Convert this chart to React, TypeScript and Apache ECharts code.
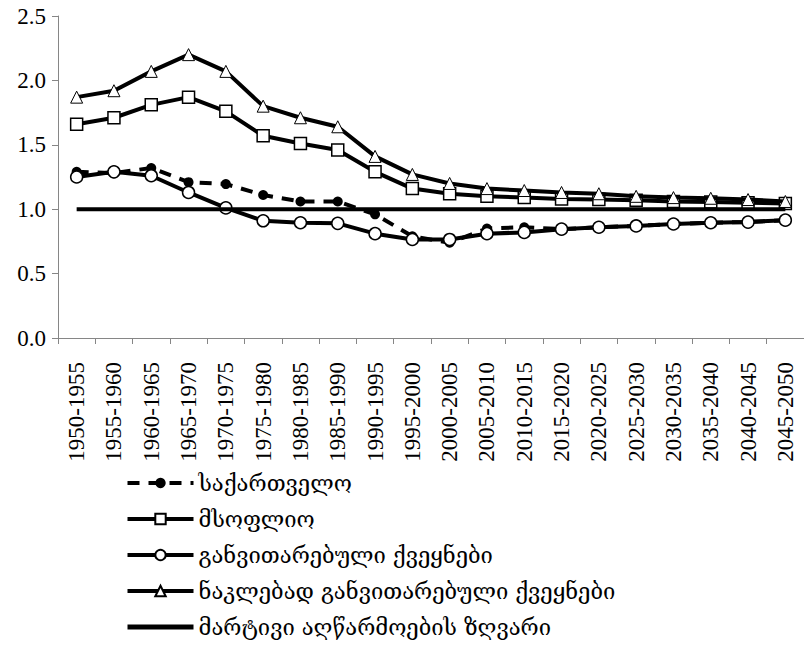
import React, { useEffect, useRef } from "react";
import * as echarts from "echarts";

const categories = [
  "1950-1955", "1955-1960", "1960-1965", "1965-1970", "1970-1975",
  "1975-1980", "1980-1985", "1985-1990", "1990-1995", "1995-2000",
  "2000-2005", "2005-2010", "2010-2015", "2015-2020", "2020-2025",
  "2025-2030", "2030-2035", "2035-2040", "2040-2045", "2045-2050",
];

const seriesNames = [
  "საქართველო",
  "მსოფლიო",
  "განვითარებული ქვეყნები",
  "ნაკლებად განვითარებული ქვეყნები",
  "მარტივი აღწარმოების ზღვარი",
];

const georgia = [1.29, 1.28, 1.32, 1.21, 1.195, 1.11, 1.06, 1.06, 0.96, 0.79, 0.74, 0.85, 0.86, 0.845, 0.86, 0.87, 0.885, 0.895, 0.90, 0.915];
const world = [1.66, 1.71, 1.81, 1.87, 1.76, 1.57, 1.51, 1.46, 1.29, 1.16, 1.12, 1.10, 1.09, 1.08, 1.075, 1.07, 1.06, 1.055, 1.05, 1.045];
const developed = [1.25, 1.29, 1.26, 1.13, 1.01, 0.91, 0.895, 0.89, 0.81, 0.765, 0.765, 0.81, 0.82, 0.845, 0.86, 0.87, 0.885, 0.895, 0.90, 0.915];
const lessDeveloped = [1.87, 1.92, 2.07, 2.20, 2.07, 1.80, 1.71, 1.64, 1.41, 1.27, 1.20, 1.16, 1.145, 1.13, 1.12, 1.10, 1.09, 1.085, 1.075, 1.06];
const replacement = [1, 1, 1, 1, 1, 1, 1, 1, 1, 1, 1, 1, 1, 1, 1, 1, 1, 1, 1, 1];

const yTicks = { min: 0, max: 2.5, interval: 0.5 };

const CHART_H = 760;

export default function App() {
  const ref = useRef<HTMLDivElement>(null);
  useEffect(() => {
    if (!ref.current) return;
    const chart = echarts.init(ref.current, null, { renderer: "svg" });
    const dash = [12, 9];
    const serif = "Liberation Serif";
    chart.setOption({
      animation: false,
      backgroundColor: "#ffffff",
      grid: { left: 58, right: 0, top: 16, bottom: CHART_H - 338, containLabel: false },
      legend: {
        orient: "vertical",
        left: 125,
        top: 472,
        padding: 0,
        itemWidth: 66,
        itemHeight: 13,
        itemGap: 14,
        textStyle: { fontFamily: "DejaVu Serif", fontSize: 22, color: "#000" },
        data: [
          { name: seriesNames[0], lineStyle: { width: 4, type: dash } },
          { name: seriesNames[1], lineStyle: { width: 4 } },
          { name: seriesNames[2], lineStyle: { width: 4 } },
          { name: seriesNames[3], lineStyle: { width: 4 } },
          { name: seriesNames[4], lineStyle: { width: 5 }, itemStyle: { opacity: 0 } },
        ],
      },
      xAxis: {
        type: "category",
        data: categories,
        boundaryGap: true,
        axisLine: { lineStyle: { color: "#868686", width: 1 } },
        axisTick: { show: true, interval: 0, length: 6, lineStyle: { color: "#868686" } },
        axisLabel: {
          interval: 0,
          rotate: 90,
          margin: 24,
          color: "#000",
          fontFamily: serif,
          fontSize: 23,
        },
        splitLine: { show: false },
      },
      yAxis: {
        type: "value",
        min: yTicks.min,
        max: yTicks.max,
        interval: yTicks.interval,
        axisLine: { show: true, lineStyle: { color: "#868686", width: 1 } },
        axisTick: { show: true, length: 6, lineStyle: { color: "#868686" } },
        axisLabel: {
          margin: 12,
          color: "#000",
          fontFamily: serif,
          fontSize: 23,
          formatter: (v: number) => v.toFixed(1),
        },
        splitLine: { show: false },
      },
      series: [
        {
          name: seriesNames[0],
          type: "line",
          data: georgia,
          symbol: "circle",
          symbolSize: 10,
          itemStyle: { color: "#000", borderColor: "#000", borderWidth: 0 },
          lineStyle: { color: "#000", width: 4, type: dash },
          z: 2,
        },
        {
          name: seriesNames[1],
          type: "line",
          data: world,
          symbol: "rect",
          symbolSize: 12,
          showAllSymbol: true,
          itemStyle: { color: "#fff", borderColor: "#000", borderWidth: 1.5 },
          lineStyle: { color: "#000", width: 4 },
          z: 3,
        },
        {
          name: seriesNames[2],
          type: "line",
          data: developed,
          symbol: "circle",
          symbolSize: 12,
          showAllSymbol: true,
          itemStyle: { color: "#fff", borderColor: "#000", borderWidth: 1.5 },
          lineStyle: { color: "#000", width: 4 },
          z: 4,
        },
        {
          name: seriesNames[3],
          type: "line",
          data: lessDeveloped,
          symbol: "triangle",
          symbolSize: 12,
          showAllSymbol: true,
          itemStyle: { color: "#fff", borderColor: "#000", borderWidth: 1 },
          lineStyle: { color: "#000", width: 4 },
          z: 5,
        },
        {
          name: seriesNames[4],
          type: "line",
          data: replacement,
          symbol: "none",
          itemStyle: { color: "#000" },
          lineStyle: { color: "#000", width: 4 },
          z: 6,
        },
      ],
    });
    return () => chart.dispose();
  }, []);
  return (
    <div
      style={{
        position: "fixed",
        left: 0,
        top: 0,
        width: 804,
        height: 647,
        overflow: "hidden",
        background: "#fff",
      }}
    >
      <div ref={ref} style={{ width: 804, height: CHART_H }} />
    </div>
  );
}
